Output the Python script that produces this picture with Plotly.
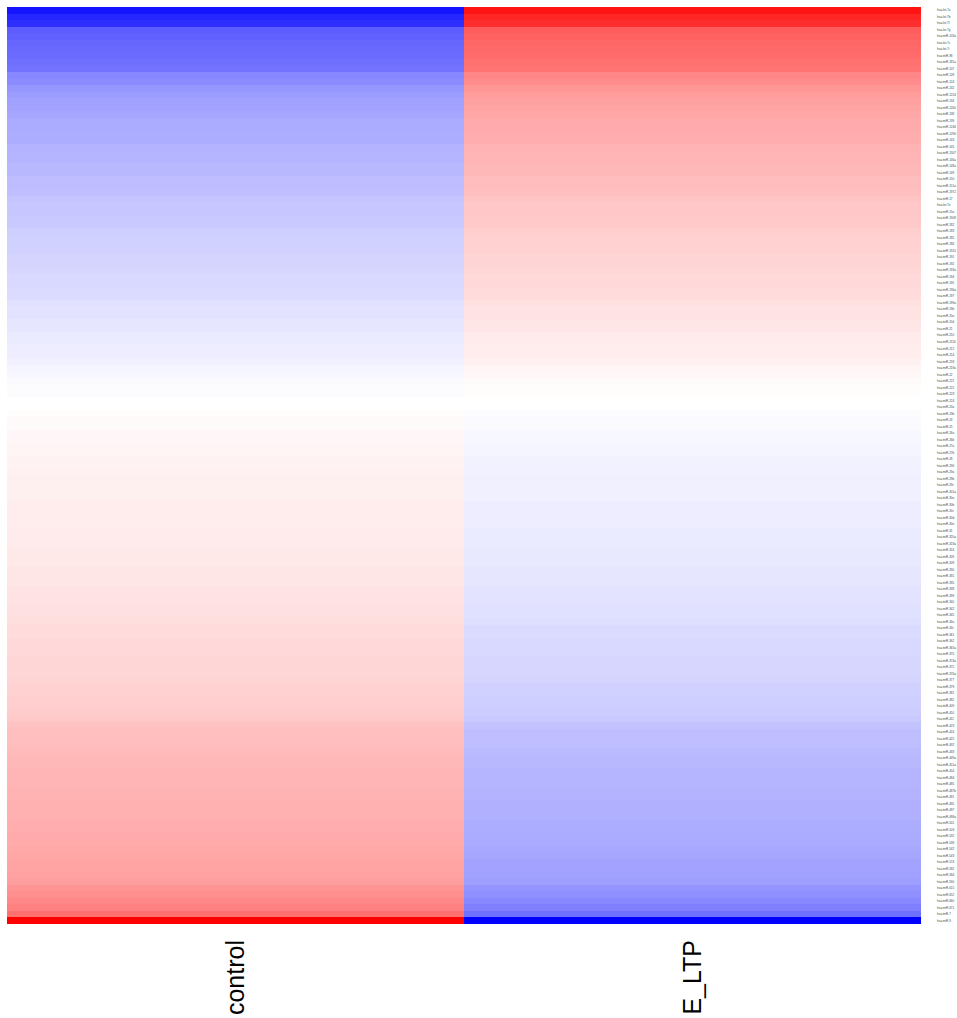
import plotly.graph_objects as go

# Samples (columns) and miRNAs (rows, top to bottom)
samples = ["control", "E_LTP"]

mirnas = [
    "hsa-let-7a", "hsa-let-7b", "hsa-let-7f", "hsa-let-7g", "hsa-miR-103a",
    "hsa-let-7c", "hsa-let-7i", "hsa-miR-98", "hsa-miR-181a", "hsa-miR-107",
    "hsa-miR-128", "hsa-miR-124", "hsa-miR-132", "hsa-miR-1224", "hsa-miR-134",
    "hsa-miR-1260", "hsa-miR-138", "hsa-miR-139", "hsa-miR-1246", "hsa-miR-1290",
    "hsa-miR-143", "hsa-miR-145", "hsa-miR-1307", "hsa-miR-146a", "hsa-miR-148a",
    "hsa-miR-149", "hsa-miR-150", "hsa-miR-151a", "hsa-miR-1972", "hsa-miR-17",
    "hsa-let-7e", "hsa-miR-15a", "hsa-miR-1908", "hsa-miR-182", "hsa-miR-183",
    "hsa-miR-185", "hsa-miR-186", "hsa-miR-1915", "hsa-miR-191", "hsa-miR-192",
    "hsa-miR-193a", "hsa-miR-194", "hsa-miR-195", "hsa-miR-196a", "hsa-miR-197",
    "hsa-miR-199a", "hsa-miR-19b", "hsa-miR-20a", "hsa-miR-204", "hsa-miR-21",
    "hsa-miR-210", "hsa-miR-2116", "hsa-miR-212", "hsa-miR-214", "hsa-miR-218",
    "hsa-miR-219a", "hsa-miR-22", "hsa-miR-221", "hsa-miR-222", "hsa-miR-223",
    "hsa-miR-224", "hsa-miR-23a", "hsa-miR-23b", "hsa-miR-24", "hsa-miR-25",
    "hsa-miR-26a", "hsa-miR-26b", "hsa-miR-27a", "hsa-miR-27b", "hsa-miR-28",
    "hsa-miR-296", "hsa-miR-29a", "hsa-miR-29b", "hsa-miR-29c", "hsa-miR-301a",
    "hsa-miR-30a", "hsa-miR-30b", "hsa-miR-30c", "hsa-miR-30d", "hsa-miR-30e",
    "hsa-miR-31", "hsa-miR-320a", "hsa-miR-323a", "hsa-miR-324", "hsa-miR-326",
    "hsa-miR-328", "hsa-miR-330", "hsa-miR-331", "hsa-miR-335", "hsa-miR-338",
    "hsa-miR-339", "hsa-miR-340", "hsa-miR-342", "hsa-miR-345", "hsa-miR-34a",
    "hsa-miR-34c", "hsa-miR-361", "hsa-miR-362", "hsa-miR-365a", "hsa-miR-370",
    "hsa-miR-374a", "hsa-miR-375", "hsa-miR-376a", "hsa-miR-377", "hsa-miR-379",
    "hsa-miR-381", "hsa-miR-382", "hsa-miR-409", "hsa-miR-410", "hsa-miR-411",
    "hsa-miR-423", "hsa-miR-424", "hsa-miR-425", "hsa-miR-432", "hsa-miR-433",
    "hsa-miR-449a", "hsa-miR-451a", "hsa-miR-454", "hsa-miR-484", "hsa-miR-485",
    "hsa-miR-487b", "hsa-miR-491", "hsa-miR-495", "hsa-miR-497", "hsa-miR-499a",
    "hsa-miR-501", "hsa-miR-503", "hsa-miR-532", "hsa-miR-539", "hsa-miR-542",
    "hsa-miR-543", "hsa-miR-574", "hsa-miR-582", "hsa-miR-584", "hsa-miR-590",
    "hsa-miR-615", "hsa-miR-652", "hsa-miR-660", "hsa-miR-671", "hsa-miR-7",
    "hsa-miR-9",
]

# Scaled expression, control column
control = [
    -0.92, -0.85, -0.82,
    -0.64, -0.62, -0.60, -0.59, -0.58,
    -0.56, -0.55,
    -0.47, -0.45,
    -0.41, -0.39,
    -0.37, -0.36, -0.35,
    -0.33, -0.33, -0.32, -0.32,
    -0.30, -0.29, -0.29, -0.28, -0.28,
    -0.26, -0.26, -0.25,
    -0.23, -0.22, -0.22, -0.21, -0.21,
    -0.19, -0.18, -0.18, -0.18, -0.17, -0.17,
    -0.16, -0.15, -0.15, -0.14, -0.14,
    -0.12, -0.11, -0.11, -0.10, -0.10,
    -0.08, -0.08, -0.07, -0.07, -0.06,
    -0.04, -0.03, -0.02, -0.01, -0.01, 0.00, 0.00, 0.01,
    0.02, 0.02, 0.03, 0.03, 0.04, 0.04, 0.05, 0.05,
    0.055, 0.06, 0.06, 0.06, 0.06, 0.07, 0.07, 0.07, 0.07, 0.08, 0.08, 0.08,
    0.09, 0.09, 0.09, 0.10, 0.10, 0.10, 0.11, 0.11, 0.11, 0.12, 0.12, 0.13,
    0.14, 0.14, 0.15, 0.15, 0.15, 0.16, 0.16, 0.16, 0.17,
    0.18, 0.18, 0.19, 0.19, 0.20, 0.21,
    0.24, 0.25, 0.25, 0.26, 0.27,
    0.28, 0.28, 0.29, 0.29, 0.29, 0.30, 0.30,
    0.31, 0.31, 0.31, 0.32, 0.32, 0.33, 0.33, 0.34,
    0.35, 0.36, 0.36, 0.37, 0.38,
    0.42, 0.44, 0.47, 0.50, 0.56,
    1.00,
]

# Scaled expression, E_LTP column
e_ltp = [
    0.92, 0.85, 0.82,
    0.64, 0.62, 0.60, 0.59, 0.58,
    0.56, 0.55,
    0.47, 0.45,
    0.41, 0.39,
    0.37, 0.36, 0.35,
    0.33, 0.33, 0.32, 0.32,
    0.30, 0.29, 0.29, 0.28, 0.28,
    0.26, 0.26, 0.25,
    0.23, 0.22, 0.22, 0.21, 0.21,
    0.19, 0.18, 0.18, 0.18, 0.17, 0.17,
    0.16, 0.15, 0.15, 0.14, 0.14,
    0.12, 0.11, 0.11, 0.10, 0.10,
    0.08, 0.08, 0.07, 0.07, 0.06,
    0.04, 0.03, 0.02, 0.01, 0.01, 0.00, 0.00, -0.01,
    -0.02, -0.02, -0.03, -0.03, -0.04, -0.04, -0.05, -0.05,
    -0.055, -0.06, -0.06, -0.06, -0.06, -0.07, -0.07, -0.07, -0.07, -0.08, -0.08, -0.08,
    -0.09, -0.09, -0.09, -0.10, -0.10, -0.10, -0.11, -0.11, -0.11, -0.12, -0.12, -0.13,
    -0.14, -0.14, -0.15, -0.15, -0.15, -0.16, -0.16, -0.16, -0.17,
    -0.18, -0.18, -0.19, -0.19, -0.20, -0.21,
    -0.24, -0.25, -0.25, -0.26, -0.27,
    -0.28, -0.28, -0.29, -0.29, -0.29, -0.30, -0.30,
    -0.31, -0.31, -0.31, -0.32, -0.32, -0.33, -0.33, -0.34,
    -0.35, -0.36, -0.36, -0.37, -0.38,
    -0.42, -0.44, -0.47, -0.50, -0.56,
    -1.00,
]

assert len(mirnas) == len(control) == len(e_ltp)

z = [[c, e] for c, e in zip(control, e_ltp)]

fig = go.Figure(
    go.Heatmap(
        z=z,
        x=samples,
        y=mirnas,
        zmin=-1,
        zmax=1,
        colorscale=[[0.0, "#0000ff"], [0.5, "#ffffff"], [1.0, "#ff0000"]],
        showscale=False,
        xgap=0,
        ygap=0,
    )
)

fig.update_layout(
    width=957,
    height=1018,
    margin=dict(l=7, r=36, t=7, b=94),
    paper_bgcolor="white",
    plot_bgcolor="white",
    font=dict(family="Liberation Sans, Arial, sans-serif", color="black"),
)

fig.update_xaxes(
    tickangle=-90,
    tickfont=dict(size=25, color="black"),
    ticks="",
    ticklabelstandoff=10,
    showgrid=False,
    zeroline=False,
    showline=False,
    automargin=False,
)

fig.update_yaxes(
    side="right",
    autorange="reversed",
    tickfont=dict(size=3, color="#444444"),
    ticks="",
    ticklabelstandoff=15,
    showgrid=False,
    zeroline=False,
    showline=False,
    automargin=False,
    tickmode="array",
    tickvals=mirnas,
    ticktext=mirnas,
)

fig.write_html("out.html")
